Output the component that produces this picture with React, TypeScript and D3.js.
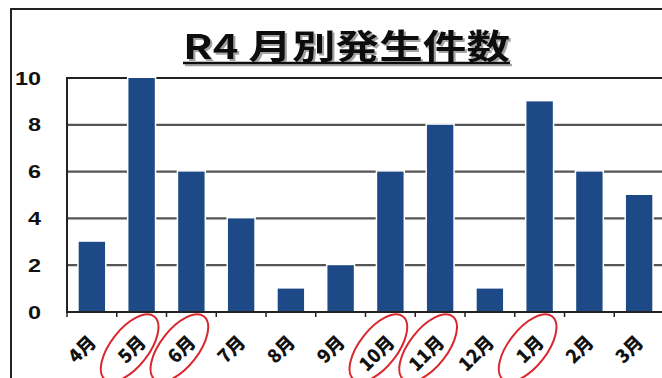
import React from "react";
import * as d3 from "d3";

const months = ["4月", "5月", "6月", "7月", "8月", "9月", "10月", "11月", "12月", "1月", "2月", "3月"];
const counts = [3, 10, 6, 4, 1, 2, 6, 8, 1, 9, 6, 5];
const yTicks = [0, 2, 4, 6, 8, 10];
const circled = ["5月", "6月", "10月", "11月", "1月"];
const title = "R4 月別発生件数";

export default function App() {
  const W = 662, H = 378;
  const left = 67, right = 664, top = 78, bottom = 312;
  const x = d3.scaleBand<string>().domain(months).range([left, right]).paddingInner(0.47).paddingOuter(0.235);
  const y = d3.scaleLinear().domain([0, 10]).range([bottom, top]);
  const step = x.step();
  const jp = "'Noto Sans CJK JP', 'Noto Sans', sans-serif";
  const num = "'Liberation Sans', Arial, sans-serif";
  return (
    <svg width={W} height={H} style={{ position: "absolute", left: 0, top: 0, background: "#fff" }}>
      <defs>
        <filter id="shadow" x="-5%" y="-20%" width="110%" height="150%">
          <feDropShadow dx={2} dy={2} stdDeviation={0.6} floodColor="#999" floodOpacity={0.9} />
        </filter>
      </defs>
      {/* outer frame */}
      <line x1={10} x2={W} y1={9} y2={9} stroke="#222" strokeWidth={2} />
      <line x1={11} x2={11} y1={9} y2={H} stroke="#222" strokeWidth={2} />
      {/* title */}
      <g filter="url(#shadow)">
        <text x={183} y={59} textLength={327} lengthAdjust="spacingAndGlyphs" fontFamily={jp} fontWeight={700} fontSize={34} fill="#111">{title}</text>
        <line x1={183} x2={510} y1={63} y2={63} stroke="#111" strokeWidth={2.5} />
      </g>
      {/* gridlines */}
      {yTicks.map((t) => (
        <line key={t} x1={left} x2={right} y1={y(t)} y2={y(t)} stroke={t === 10 ? "#222" : "#555"} strokeWidth={2.2} />
      ))}
      {/* bars */}
      {counts.map((v, i) => (
        <rect key={i} x={x(months[i])!} y={y(v)} width={x.bandwidth()} height={y(0) - y(v)} fill="#1d4a86" stroke="#fff" strokeWidth={3} paintOrder="stroke" />
      ))}
      {/* axes */}
      <line x1={left} x2={left} y1={top - 1} y2={bottom + 1} stroke="#222" strokeWidth={2} />
      <line x1={left} x2={right} y1={bottom} y2={bottom} stroke="#222" strokeWidth={2.2} />
      {months.map((m, i) => (
        <line key={"t" + i} x1={left + step * i} x2={left + step * i} y1={bottom} y2={bottom + 5} stroke="#222" strokeWidth={1.5} />
      ))}
      {/* y labels */}
      {yTicks.map((t) => (
        <text key={"y" + t} transform={`translate(41 ${y(t) + 6.5}) scale(1.3 1)`} textAnchor="end" fontFamily={num} fontWeight={700} fontSize={18} fill="#111">{t}</text>
      ))}
      {/* x labels */}
      {months.map((m) => {
        const cx = x(m)! + x.bandwidth() / 2 + 2;
        const cy = 340;
        return (
          <text key={"x" + m} x={cx} y={cy} transform={`rotate(-45 ${cx} ${cy})`} textAnchor="end" dominantBaseline="middle" fontFamily={jp} fontWeight={900} fontSize={18.5} fill="#111">{m}</text>
        );
      })}
      {/* red ellipses */}
      {circled.map((m) => {
        const cx = x(m)! + x.bandwidth() / 2 - 12;
        const cy = 348;
        return (
          <ellipse key={"e" + m} cx={cx} cy={cy} rx={40} ry={19} transform={`rotate(-52 ${cx} ${cy})`} fill="none" stroke="#d9272f" strokeWidth={2} />
        );
      })}
    </svg>
  );
}
